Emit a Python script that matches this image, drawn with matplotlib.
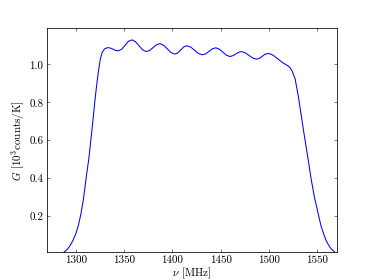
"""Bandpass gain curve, G vs frequency."""

import matplotlib

matplotlib.use("Agg")
import matplotlib.pyplot as plt

# frequency [MHz] and gain [10^3 counts/K]
FREQ = [
    1288, 1291, 1294, 1297, 1300, 1303, 1305.5, 1308, 1311, 1313.5,
    1315.2, 1316.9, 1318.7, 1320.4, 1322.1, 1323.8, 1325.5, 1327.5, 1330, 1333,
    1335.75, 1338.5, 1341.25, 1344, 1347.5, 1351, 1354.5, 1358,
    1361.75, 1365.5, 1369.25, 1373, 1376.5, 1380, 1383.5, 1387,
    1390.9, 1394.75, 1398.6, 1402.5, 1405.6, 1408.75, 1411.9, 1415,
    1419, 1423, 1427, 1431, 1434.5, 1438, 1441.5, 1445,
    1448.6, 1452.25, 1455.9, 1459.5, 1462.5, 1465.5, 1468.5, 1471.5,
    1475.4, 1479.25, 1483.1, 1487, 1490, 1493, 1496, 1499,
    1502, 1505, 1508, 1511, 1513, 1516, 1519, 1521.7, 1524, 1527,
    1530.3, 1533, 1535.5, 1538, 1540.5, 1543.5, 1547, 1551.5,
    1554, 1557, 1559, 1561.5, 1563.5, 1566, 1568,
]
GAIN = [
    0.01, 0.022, 0.042, 0.07, 0.105, 0.155, 0.215, 0.29, 0.41, 0.50,
    0.58, 0.66, 0.75, 0.835, 0.91, 0.975, 1.03, 1.065, 1.083, 1.089,
    1.087, 1.081, 1.074, 1.072, 1.080, 1.101, 1.122, 1.130,
    1.121, 1.099, 1.077, 1.068, 1.074, 1.089, 1.104, 1.110,
    1.102, 1.0825, 1.063, 1.055, 1.061, 1.077, 1.093, 1.099,
    1.092, 1.075, 1.058, 1.051, 1.056, 1.0695, 1.083, 1.088,
    1.081, 1.065, 1.049, 1.042, 1.046, 1.055, 1.064, 1.068,
    1.062, 1.048, 1.034, 1.028, 1.032, 1.043, 1.054, 1.058,
    1.055, 1.046, 1.034, 1.022, 1.014, 1.004, 0.995, 0.984, 0.965, 0.925,
    0.835, 0.745, 0.66, 0.58, 0.50, 0.40, 0.30, 0.20,
    0.145, 0.10, 0.072, 0.048, 0.032, 0.018, 0.01,
]

XTICKS = [1300, 1350, 1400, 1450, 1500, 1550]
YTICKS = [0.2, 0.4, 0.6, 0.8, 1.0]

plt.rcParams.update({
    "font.family": "serif",
    "font.serif": ["cmr10", "DejaVu Serif"],
    "mathtext.fontset": "cm",
    "axes.formatter.use_mathtext": True,
    "font.size": 17,
    "xtick.direction": "in",
    "ytick.direction": "in",
    "xtick.top": True,
    "ytick.right": True,
    "xtick.major.size": 5,
    "ytick.major.size": 5,
    "axes.linewidth": 1.2,
})

fig = plt.figure(figsize=(8, 6), dpi=46.75)
ax = fig.add_axes([0.125, 0.1, 0.775, 0.8])
ax.plot(FREQ, GAIN, color="blue", linewidth=1.6)

ax.set_xlim(1270, 1570)
ax.set_ylim(0.01, 1.195)
ax.set_xticks(XTICKS)
ax.set_yticks(YTICKS)
ax.set_xticklabels([str(t) for t in XTICKS])
ax.set_yticklabels([f"{t:.1f}" for t in YTICKS])
ax.tick_params(pad=5)
ax.set_xlabel(r"$\nu$ [MHz]", labelpad=1)
ax.set_ylabel(r"$G$ [$10^3$counts/K]", labelpad=3)

fig.savefig("out.png", dpi=46.75)
plt.close(fig)
